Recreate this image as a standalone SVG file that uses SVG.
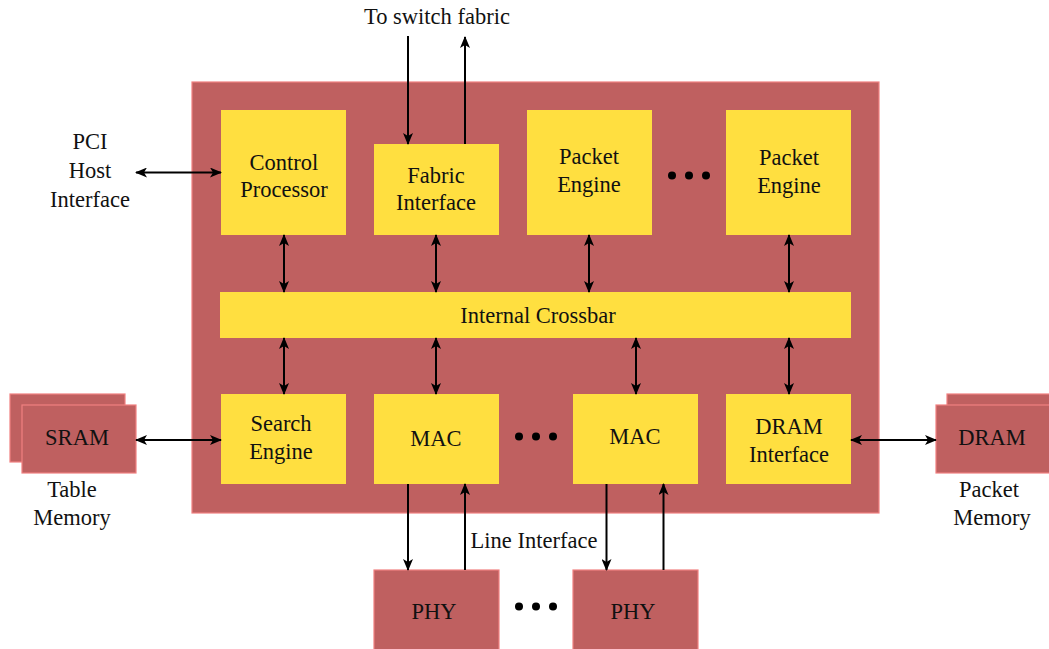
<svg xmlns="http://www.w3.org/2000/svg" width="1049" height="649" viewBox="0 0 1049 649">
  <defs>
    <marker id="ah" viewBox="0 0 12 10" refX="11" refY="5" markerWidth="12" markerHeight="10" markerUnits="userSpaceOnUse" orient="auto-start-reverse">
      <path d="M0,0 L12,5 L0,10 L3,5 Z" fill="#000"/>
    </marker>
  </defs>
  <style>
    .chip { fill: #bf6060; stroke: #f08080; stroke-width: 1.2; }
    .blk { fill: #ffdf40; }
    .mem { fill: #bf6060; stroke: #f08080; stroke-width: 1.2; }
    text { font-family: 'Liberation Serif', 'DejaVu Serif Condensed', 'DejaVu Serif', serif; font-stretch: semi-condensed; font-size: 22.5px; fill: #111; text-anchor: middle; }
    .one { fill: none; stroke: #000; stroke-width: 2; marker-end: url(#ah); }
    .two { fill: none; stroke: #000; stroke-width: 2; marker-start: url(#ah); marker-end: url(#ah); }
    .dot { fill: #000; }
  </style>

  <!-- chip outline -->
  <g id="chip">
    <rect class="chip" x="192" y="82" width="687" height="431"/>
  </g>

  <!-- top row -->
  <g id="control-processor">
    <rect class="blk" x="221" y="110" width="125" height="125"/>
    <text x="284" y="170">Control</text>
    <text x="284" y="197">Processor</text>
  </g>
  <g id="fabric-interface">
    <rect class="blk" x="374" y="144" width="125" height="91"/>
    <text x="436" y="183">Fabric</text>
    <text x="436" y="210">Interface</text>
  </g>
  <g id="packet-engine-1">
    <rect class="blk" x="527" y="110" width="125" height="125"/>
    <text x="589" y="164">Packet</text>
    <text x="589" y="192">Engine</text>
  </g>
  <g id="packet-engine-n">
    <rect class="blk" x="726" y="110" width="125" height="125"/>
    <text x="789" y="165">Packet</text>
    <text x="789" y="193">Engine</text>
  </g>
  <g id="engine-dots">
    <circle class="dot" cx="672" cy="175.5" r="4"/>
    <circle class="dot" cx="689" cy="175.5" r="4"/>
    <circle class="dot" cx="706" cy="175.5" r="4"/>
  </g>

  <!-- crossbar -->
  <g id="crossbar">
    <rect class="blk" x="220" y="292" width="631" height="46"/>
    <text x="538" y="323">Internal Crossbar</text>
  </g>

  <!-- bottom row -->
  <g id="search-engine">
    <rect class="blk" x="221" y="394" width="125" height="90"/>
    <text x="281" y="431">Search</text>
    <text x="281" y="459">Engine</text>
  </g>
  <g id="mac-1">
    <rect class="blk" x="374" y="394" width="125" height="90"/>
    <text x="436" y="446">MAC</text>
  </g>
  <g id="mac-n">
    <rect class="blk" x="573" y="394" width="125" height="90"/>
    <text x="635" y="444">MAC</text>
  </g>
  <g id="dram-interface">
    <rect class="blk" x="726" y="394" width="125" height="90"/>
    <text x="789" y="434">DRAM</text>
    <text x="789" y="462">Interface</text>
  </g>
  <g id="mac-dots">
    <circle class="dot" cx="519" cy="436.5" r="4"/>
    <circle class="dot" cx="536" cy="436.5" r="4"/>
    <circle class="dot" cx="553" cy="436.5" r="4"/>
  </g>

  <!-- external memories -->
  <g id="sram">
    <rect class="mem" x="10" y="394" width="115" height="68"/>
    <rect class="mem" x="22" y="405" width="114" height="68"/>
    <text x="77" y="445">SRAM</text>
    <text x="72" y="497">Table</text>
    <text x="72" y="525">Memory</text>
  </g>
  <g id="dram">
    <rect class="mem" x="947" y="394" width="115" height="68"/>
    <rect class="mem" x="936" y="405" width="115" height="68"/>
    <text x="992" y="445">DRAM</text>
    <text x="989" y="497">Packet</text>
    <text x="992" y="525">Memory</text>
  </g>

  <!-- PHYs -->
  <g id="phy-1">
    <rect class="mem" x="374" y="570" width="125" height="90"/>
    <text x="434" y="619">PHY</text>
  </g>
  <g id="phy-n">
    <rect class="mem" x="573" y="570" width="125" height="90"/>
    <text x="633" y="619">PHY</text>
  </g>
  <g id="phy-dots">
    <circle class="dot" cx="519" cy="606.5" r="4"/>
    <circle class="dot" cx="536" cy="606.5" r="4"/>
    <circle class="dot" cx="553" cy="606.5" r="4"/>
  </g>

  <!-- free labels -->
  <g id="labels">
    <text x="90" y="149">PCI</text>
    <text x="90" y="178">Host</text>
    <text x="90" y="207">Interface</text>
    <text x="437" y="24">To switch fabric</text>
    <text x="534" y="548">Line Interface</text>
  </g>

  <!-- connectors -->
  <g id="connectors">
    <!-- host and switch fabric -->
    <line class="two" x1="136" y1="172.5" x2="221" y2="172.5"/>
    <line class="one" x1="408" y1="36" x2="408" y2="144"/>
    <line class="one" x1="465" y1="144" x2="465" y2="37"/>
    <!-- top row to crossbar -->
    <line class="two" x1="284" y1="235" x2="284" y2="292"/>
    <line class="two" x1="436" y1="235" x2="436" y2="292"/>
    <line class="two" x1="589" y1="235" x2="589" y2="292"/>
    <line class="two" x1="789" y1="235" x2="789" y2="292"/>
    <!-- crossbar to bottom row -->
    <line class="two" x1="284" y1="338" x2="284" y2="394"/>
    <line class="two" x1="436" y1="338" x2="436" y2="394"/>
    <line class="two" x1="636" y1="338" x2="636" y2="394"/>
    <line class="two" x1="789" y1="338" x2="789" y2="394"/>
    <!-- memories -->
    <line class="two" x1="136" y1="440" x2="221" y2="440"/>
    <line class="two" x1="851" y1="440" x2="936" y2="440"/>
    <!-- line interface -->
    <line class="one" x1="408" y1="484" x2="408" y2="570"/>
    <line class="one" x1="465" y1="570" x2="465" y2="484"/>
    <line class="one" x1="606.5" y1="484" x2="606.5" y2="570"/>
    <line class="one" x1="663.5" y1="570" x2="663.5" y2="484"/>
  </g>
</svg>
